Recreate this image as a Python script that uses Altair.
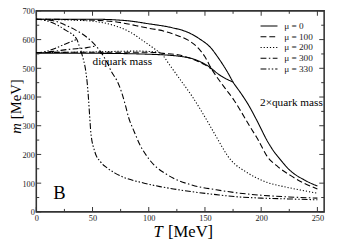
import altair as alt
import pandas as pd

mu_labels = ["μ = 0", "μ = 100", "μ = 200", "μ = 300", "μ = 330"]
dashes = [[1, 0], [6, 3], [1.2, 2], [6, 2.5, 1.5, 2.5], [6, 2, 1.5, 2, 1.5, 2]]

# μ = 0
t_q0 = [0, 50, 80, 100, 120, 135, 145, 155, 163, 170, 175, 182, 188, 197, 205, 211, 216, 226, 238, 250]
m_q0 = [671, 671, 666, 655, 642, 625, 603, 572, 530, 487, 452, 413, 377, 312, 250, 212, 187, 143, 112, 90]
t_d0 = [0, 60, 100, 125, 140, 152, 164, 175]
m_d0 = [553, 552, 549, 543, 532, 510, 474, 452]
# μ = 100
t_q1 = [0, 40, 70, 98, 115, 127, 135, 142, 150, 156, 162, 168, 176, 182, 190, 197, 205, 215, 226, 238, 250]
m_q1 = [671, 669, 662, 641, 628, 612, 598, 578, 540, 497, 462, 430, 388, 350, 297, 253, 195, 157, 127, 100, 80]
t_d1 = [0, 60, 100, 113, 127, 142, 150, 156]
m_d1 = [555, 556, 556, 552, 546, 527, 512, 497]
# μ = 200
t_q2 = [0, 30, 50, 70, 83, 96, 105, 113, 118, 127, 139, 153, 160, 165, 170, 177, 185, 195, 205, 220, 235, 250]
m_q2 = [671, 668, 664, 648, 627, 593, 568, 543, 515, 466, 400, 310, 262, 228, 196, 165, 143, 120, 103, 88, 76, 65]
t_d2 = [0, 50, 90, 109]
m_d2 = [555, 557, 560, 556]
# μ = 300
t_q3 = [0, 10, 17, 25, 35, 45, 53, 58, 63, 67, 72, 76, 79, 82, 87, 92, 100, 107, 115, 122, 139, 160, 177, 200, 225, 250]
m_q3 = [671, 668, 664, 652, 633, 608, 578, 553, 520, 487, 455, 415, 375, 330, 280, 235, 185, 155, 133, 117, 93, 77, 67, 58, 52, 48]
t_d3 = [0, 15, 29, 45, 53]
m_d3 = [553, 559, 566, 572, 578]
# μ = 330
t_q4 = [0, 5, 9, 18, 26, 36, 38, 41, 44, 45.5, 46.5, 47.3, 48.5, 52, 57, 63, 70, 78, 96, 110, 122, 139, 160, 177, 200, 225, 250]
m_q4 = [671, 669, 666, 652, 633, 601, 580, 543, 490, 440, 390, 343, 277, 210, 175, 153, 135, 120, 100, 88, 80, 70, 60, 53, 48, 45, 42]
t_d4 = [0, 10, 17, 26, 36]
m_d4 = [553, 560, 570, 585, 601]

x_major = [0, 50, 100, 150, 200, 250]
x_minor = [25, 75, 125, 175, 225]
y_major = [0, 100, 200, 300, 400, 500, 600, 700]
y_minor = [50, 150, 250, 350, 450, 550, 650]

series = [
    (mu_labels[0], t_q0, m_q0, t_d0, m_d0),
    (mu_labels[1], t_q1, m_q1, t_d1, m_d1),
    (mu_labels[2], t_q2, m_q2, t_d2, m_d2),
    (mu_labels[3], t_q3, m_q3, t_d3, m_d3),
    (mu_labels[4], t_q4, m_q4, t_d4, m_d4),
]
rows = []
for lab, tq, mq, td, md in series:
    for t, m in zip(tq, mq):
        rows.append({"mu": lab, "branch": "quark", "T": t, "m": m})
    for t, m in zip(td, md):
        rows.append({"mu": lab, "branch": "diquark", "T": t, "m": m})
df = pd.DataFrame(rows)

W, H = 295, 206
FONT = "Liberation Serif, Times New Roman, DejaVu Serif, serif"

xscale = alt.Scale(domain=[0, 256], nice=False, zero=False)
yscale = alt.Scale(domain=[0, 700], nice=False, zero=False)
xaxis = alt.Axis(values=x_major, ticks=False, tickSize=0, domain=False, grid=False, title=None,
                 labelFont=FONT, labelFontSize=8.5, labelColor="#222", labelPadding=2,
                 labelFlush=False)
yaxis = alt.Axis(values=y_major, ticks=False, tickSize=0, domain=False, grid=False, title=None,
                 labelFont=FONT, labelFontSize=8.5, labelColor="#222", labelPadding=2,
                 labelFlush=False)
X = alt.X("T:Q", scale=xscale, axis=xaxis)
Y = alt.Y("m:Q", scale=yscale, axis=yaxis)

lines = alt.Chart(df).mark_line(color="black", strokeWidth=1.1, interpolate="monotone").encode(
    x=X, y=Y,
    strokeDash=alt.StrokeDash("mu:N", scale=alt.Scale(domain=mu_labels, range=dashes),
                              legend=alt.Legend(title=None, orient="none", legendX=232, legendY=9,
                                                symbolType="M-1.5,0H1.5", symbolSize=134,
                                                symbolStrokeWidth=1.1, symbolStrokeColor="black",
                                                symbolFillColor="transparent",
                                                labelFont=FONT, labelFontSize=9.5, labelColor="#222",
                                                labelOffset=9, rowPadding=0, padding=0)),
    detail="branch:N",
)

tick_color = "#333"
def xt(vals, y1, y2):
    return alt.Chart(pd.DataFrame({"T": vals})).mark_rule(color=tick_color, strokeWidth=1).encode(
        x=X, y=alt.value(y1), y2=alt.value(y2))
def yt(vals, x1, x2):
    return alt.Chart(pd.DataFrame({"m": vals})).mark_rule(color=tick_color, strokeWidth=1).encode(
        y=Y, x=alt.value(x1), x2=alt.value(x2))

ticks = [
    xt(x_major, H, H - 5), xt(x_minor, H, H - 3),
    xt(x_major, 0, 5), xt(x_minor, 0, 3),
    yt(y_major, 0, 5), yt(y_minor, 0, 3),
    yt(y_major, W, W - 5), yt(y_minor, W, W - 3),
]

ann_df = pd.DataFrame({"T": [50, 199], "m": [520, 378], "label": ["diquark mass", "2×quark mass"]})
ann = alt.Chart(ann_df).mark_text(font=FONT, fontSize=11.5, align="left", baseline="middle", color="black").encode(
    x=X, y=Y, text="label:N")

b_df = pd.DataFrame({"T": [15], "m": [66], "label": ["B"]})
b_txt = alt.Chart(b_df).mark_text(font=FONT, fontSize=19, align="left", baseline="middle", color="black").encode(
    x=X, y=Y, text="label:N")

one = pd.DataFrame({"k": [0]})
xt1 = alt.Chart(one).mark_text(font=FONT, fontSize=17, fontStyle="italic", align="left", baseline="alphabetic", color="black").encode(
    x=alt.value(120), y=alt.value(232), text=alt.value("T"))
xt2 = alt.Chart(one).mark_text(font=FONT, fontSize=17, align="left", baseline="alphabetic", color="black").encode(
    x=alt.value(135), y=alt.value(232), text=alt.value("[MeV]"))
yt1 = alt.Chart(one).mark_text(font=FONT, fontSize=15, fontStyle="italic", align="left", baseline="alphabetic", angle=270, color="black").encode(
    x=alt.value(-16), y=alt.value(126), text=alt.value("m"))
yt2 = alt.Chart(one).mark_text(font=FONT, fontSize=15, align="left", baseline="alphabetic", angle=270, color="black").encode(
    x=alt.value(-16), y=alt.value(111), text=alt.value("[MeV]"))

chart = alt.layer(lines, *ticks, ann, b_txt, xt1, xt2, yt1, yt2).properties(
    width=W, height=H,
    autosize=alt.AutoSizeParams(type="none"),
    padding={"left": 29, "top": 0, "right": 6, "bottom": 31},
).configure_view(stroke="#333", strokeWidth=1.6)

chart.save("out.html", embed_options={"renderer": "svg", "actions": False})
